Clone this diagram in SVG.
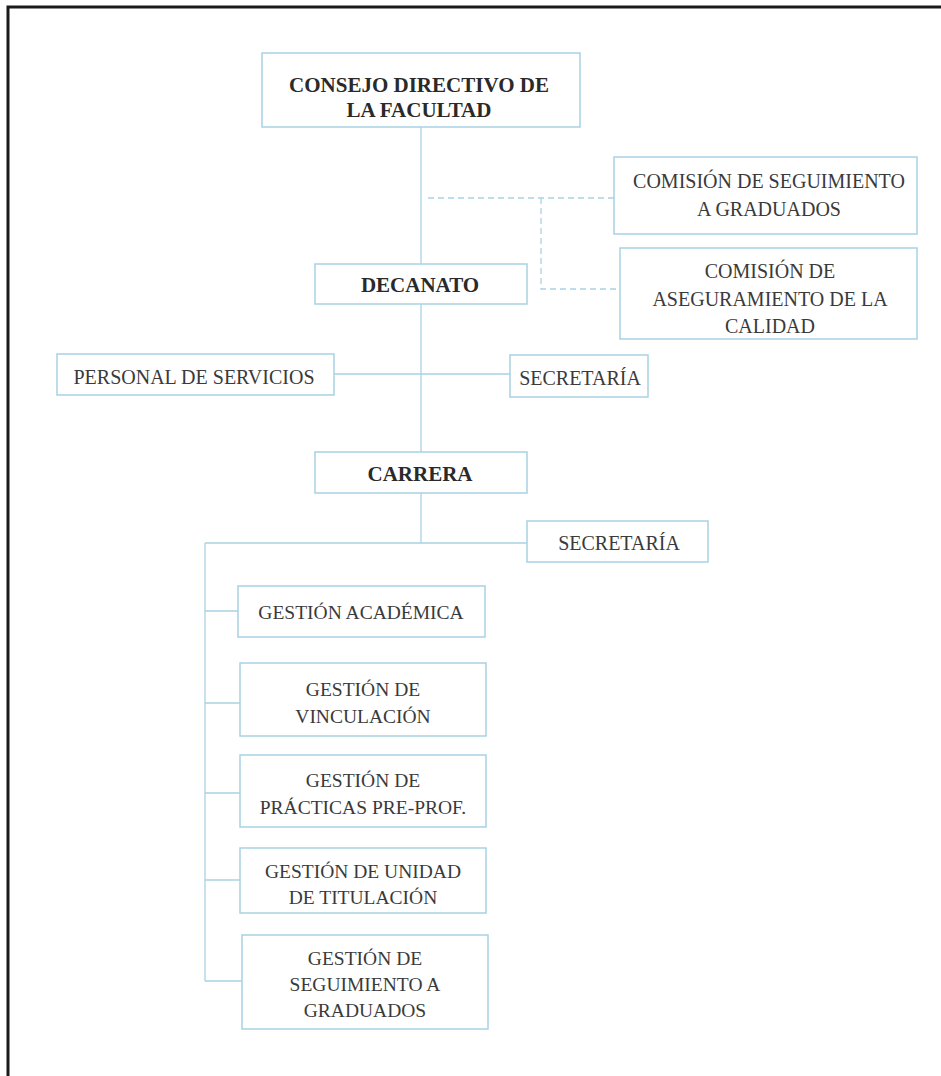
<svg xmlns="http://www.w3.org/2000/svg" width="941" height="1076" viewBox="0 0 941 1076">
<style>
.box{fill:#fff;stroke:#a8d2e3;stroke-width:1.5}
.t{font-family:"Liberation Serif","Times New Roman",serif;font-size:19.5px;fill:#3a3a3a;text-anchor:middle}
.c{font-size:20px}
.b{font-weight:bold;font-size:21px;fill:#2a2a2a}
.ln{stroke:#a8d2e3;stroke-width:1.3;fill:none}
.ds{stroke:#a8d2e3;stroke-width:1.3;fill:none;stroke-dasharray:6 4}
</style>
<rect width="941" height="1076" fill="#fff"/>
<path d="M8 1076 V7 H941" fill="none" stroke="#1a1a1a" stroke-width="3"/>
<g id="connectors">
<path class="ln" d="M421 127 V452"/>
<path class="ln" d="M334 374 H510"/>
<path class="ln" d="M421 493 V543"/>
<path class="ln" d="M205 543 H527"/>
<path class="ln" d="M205 543 V981"/>
<path class="ln" d="M205 611 H238"/>
<path class="ln" d="M205 703 H240"/>
<path class="ln" d="M205 793 H240"/>
<path class="ln" d="M205 880 H240"/>
<path class="ln" d="M205 981 H242"/>
<path class="ds" d="M428 198 H614"/>
<path class="ds" d="M541 198 V289 H620"/>
</g>
<g id="consejo"><rect class="box" x="262" y="53" width="318" height="74"/><text class="t b" x="419" y="92">CONSEJO DIRECTIVO DE</text><text class="t b" x="419" y="117">LA FACULTAD</text></g>
<g id="decanato"><rect class="box" x="315" y="264" width="212" height="40"/><text class="t b" x="420" y="292">DECANATO</text></g>
<g id="com-seguimiento"><rect class="box" x="614" y="157" width="303" height="77"/><text class="t c" x="769" y="188">COMISIÓN DE SEGUIMIENTO</text><text class="t c" x="769" y="216">A GRADUADOS</text></g>
<g id="com-aseguramiento"><rect class="box" x="620" y="248" width="297" height="91"/><text class="t c" x="770" y="278">COMISIÓN DE</text><text class="t c" x="770" y="306">ASEGURAMIENTO DE LA</text><text class="t c" x="770" y="333">CALIDAD</text></g>
<g id="personal"><rect class="box" x="57" y="354" width="277" height="41"/><text class="t c" x="194" y="384">PERSONAL DE SERVICIOS</text></g>
<g id="secretaria1"><rect class="box" x="510" y="355" width="138" height="42"/><text class="t c" x="580" y="385">SECRETARÍA</text></g>
<g id="carrera"><rect class="box" x="315" y="452" width="212" height="41"/><text class="t b" x="420" y="481">CARRERA</text></g>
<g id="secretaria2"><rect class="box" x="527" y="521" width="181" height="41"/><text class="t c" x="619" y="550">SECRETARÍA</text></g>
<g id="g-academica"><rect class="box" x="238" y="586" width="247" height="51"/><text class="t" x="361" y="619">GESTIÓN ACADÉMICA</text></g>
<g id="g-vinculacion"><rect class="box" x="240" y="663" width="246" height="73"/><text class="t" x="363" y="696">GESTIÓN DE</text><text class="t" x="363" y="723">VINCULACIÓN</text></g>
<g id="g-practicas"><rect class="box" x="240" y="755" width="246" height="72"/><text class="t" x="363" y="787">GESTIÓN DE</text><text class="t" x="363" y="814">PRÁCTICAS PRE-PROF.</text></g>
<g id="g-titulacion"><rect class="box" x="240" y="848" width="246" height="65"/><text class="t" x="363" y="878">GESTIÓN DE UNIDAD</text><text class="t" x="363" y="904">DE TITULACIÓN</text></g>
<g id="g-seguimiento"><rect class="box" x="242" y="935" width="246" height="94"/><text class="t" x="365" y="965">GESTIÓN DE</text><text class="t" x="365" y="991">SEGUIMIENTO A</text><text class="t" x="365" y="1017">GRADUADOS</text></g>
</svg>
